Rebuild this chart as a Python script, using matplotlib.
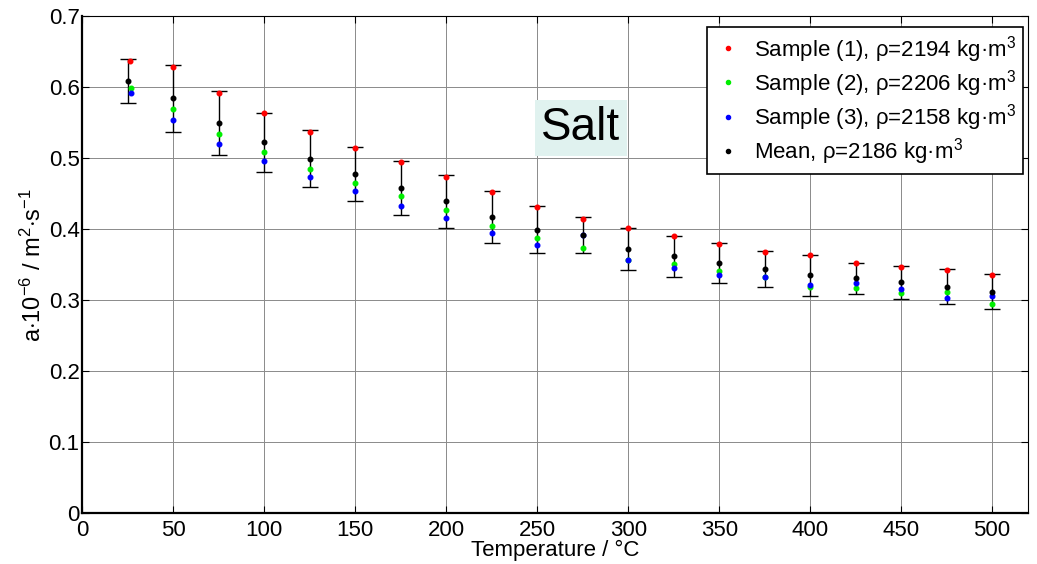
import matplotlib
matplotlib.use("Agg")
import matplotlib.pyplot as plt
from matplotlib.ticker import FuncFormatter

plt.rcParams['font.family'] = ['Liberation Sans', 'DejaVu Sans']
plt.rcParams['mathtext.fontset'] = 'custom'
plt.rcParams['mathtext.rm'] = 'Liberation Sans'
plt.rcParams['mathtext.it'] = 'Liberation Sans:italic'

temperature = [25, 50, 75, 100, 125, 150, 175, 200, 225, 250,
               275, 300, 325, 350, 375, 400, 425, 450, 475, 500]

sample1 = [0.636, 0.628, 0.591, 0.563, 0.537, 0.514, 0.494, 0.474, 0.452, 0.431,
           0.414, 0.401, 0.390, 0.379, 0.368, 0.363, 0.353, 0.347, 0.342, 0.336]
sample2 = [0.598, 0.569, 0.534, 0.508, 0.485, 0.465, 0.446, 0.427, 0.404, 0.388,
           0.373, 0.356, 0.351, 0.341, 0.332, 0.319, 0.317, 0.310, 0.312, 0.294]
sample3 = [0.591, 0.554, 0.520, 0.496, 0.474, 0.453, 0.433, 0.415, 0.394, 0.378,
           0.392, 0.357, 0.345, 0.336, 0.332, 0.322, 0.324, 0.316, 0.303, 0.306]
mean = [0.609, 0.584, 0.549, 0.522, 0.499, 0.478, 0.458, 0.439, 0.417, 0.399,
        0.392, 0.372, 0.362, 0.352, 0.344, 0.335, 0.331, 0.325, 0.319, 0.312]
error = [0.031, 0.047, 0.045, 0.042, 0.040, 0.038, 0.038, 0.037, 0.036, 0.033,
         0.025, 0.030, 0.029, 0.028, 0.025, 0.029, 0.022, 0.023, 0.025, 0.025]

# first point of each sample was measured at a slightly different temperature
t1 = [26] + temperature[1:]
t2 = [27] + temperature[1:]
t3 = [27] + temperature[1:]

labels = ['Sample (1), \u03c1=2194 kg\u00b7m$^3$',
          'Sample (2), \u03c1=2206 kg\u00b7m$^3$',
          'Sample (3), \u03c1=2158 kg\u00b7m$^3$',
          'Mean, \u03c1=2186 kg\u00b7m$^3$']

fig = plt.figure(figsize=(10.37, 5.64), dpi=100)
ax = fig.add_axes([0.0794, 0.0899, 0.9124, 0.8817])

ax.errorbar(temperature, mean, yerr=error, fmt='none', ecolor='black',
            elinewidth=1.0, capsize=6, capthick=1.0, zorder=3)
ax.plot(t1, sample1, 'o', color='red', ms=3.3, label=labels[0], zorder=4)
ax.plot(t2, sample2, 'o', color='#00ee00', ms=3.3, label=labels[1], zorder=4)
ax.plot(t3, sample3, 'o', color='blue', ms=3.3, label=labels[2], zorder=4)
ax.plot(temperature, mean, 'o', color='black', ms=3.3, label=labels[3], zorder=5)

ax.set_xlim(0, 520)
ax.set_ylim(0, 0.7)
ax.set_xticks(range(0, 501, 50))
ax.set_yticks([0, 0.1, 0.2, 0.3, 0.4, 0.5, 0.6, 0.7])
ax.yaxis.set_major_formatter(FuncFormatter(lambda v, p: '%g' % round(v, 2)))

ax.grid(True, color='#8a8a8a', linewidth=0.7)
ax.set_axisbelow(True)
ax.tick_params(direction='in', length=5, labelsize=16, top=True, right=True,
               labeltop=False, labelright=False)
ax.tick_params(axis='y', pad=2)
ax.tick_params(axis='x', pad=5)
for s in ['left', 'bottom']:
    ax.spines[s].set_linewidth(1.6)
for s in ['top', 'right']:
    ax.spines[s].set_linewidth(0.8)

ax.set_xlabel('Temperature / \u00b0C', fontsize=16, labelpad=-1)
ax.set_ylabel('a$\\cdot$10$^{-6}$ / m$^2$$\\cdot$s$^{-1}$', fontsize=17, labelpad=2)

ax.text(274, 0.5255, 'Salt', fontsize=33, ha='center', va='baseline', zorder=6,
        bbox=dict(boxstyle='square,pad=0.14', facecolor='#e0f2ef', edgecolor='none'))

leg = ax.legend(loc='upper right', bbox_to_anchor=(0.994, 0.978), borderaxespad=0,
                fontsize=16, fancybox=False, framealpha=1, edgecolor='black',
                handlelength=1.3, handletextpad=0.5, labelspacing=0.15,
                borderpad=0.3, markerscale=0.9)
leg.get_frame().set_linewidth(1.2)
leg.set_zorder(7)

fig.savefig('out.png', dpi=100)
